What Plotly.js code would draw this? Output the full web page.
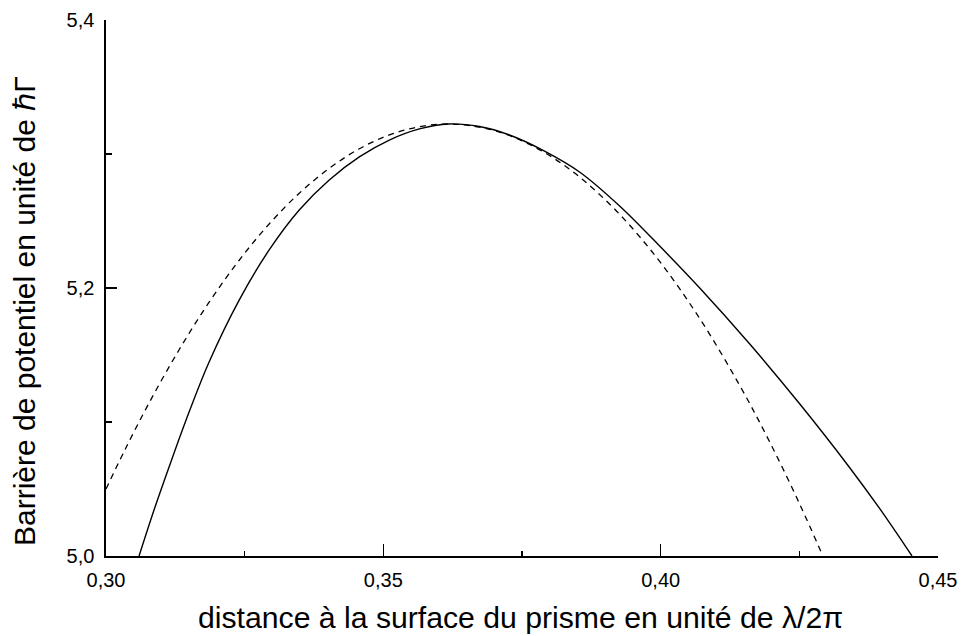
<!DOCTYPE html>
<html>
<head>
<meta charset="utf-8">
<script src="https://cdn.plot.ly/plotly-3.0.1.min.js"></script>
<style>html,body{margin:0;padding:0;background:#fff;}#chart{width:962px;height:636px;}</style>
</head>
<body>
<div id="chart"></div>
<script>
// Solid curve (exact barrier)
const solidX = [0.30596, 0.30866, 0.31137, 0.31444, 0.31859, 0.32401, 0.32942, 0.33484, 0.34025, 0.34567, 0.35108, 0.35650, 0.36173, 0.36733, 0.37274, 0.37906, 0.38538, 0.39260, 0.39982, 0.40704, 0.41606, 0.42509, 0.43412, 0.43953, 0.44531];
const solidY = [5.0000, 5.0343, 5.0664, 5.1015, 5.1448, 5.1910, 5.2284, 5.2582, 5.2806, 5.2978, 5.3104, 5.3187, 5.3224, 5.3205, 5.3142, 5.3022, 5.2866, 5.2612, 5.2313, 5.2000, 5.1582, 5.1134, 5.0657, 5.0351, 5.0000];
// Dashed curve (approximation)
const dashX = [0.30000, 0.30325, 0.30776, 0.31318, 0.31859, 0.32401, 0.32942, 0.33484, 0.34025, 0.34567, 0.35108, 0.35650, 0.36173, 0.36733, 0.37274, 0.37906, 0.38538, 0.39260, 0.39982, 0.40704, 0.41426, 0.41968, 0.42509, 0.42924];
const dashY = [5.0500, 5.0779, 5.1142, 5.1539, 5.1894, 5.2207, 5.2478, 5.2707, 5.2893, 5.3039, 5.3142, 5.3204, 5.3224, 5.3201, 5.3138, 5.3011, 5.2828, 5.2550, 5.2198, 5.1772, 5.1272, 5.0849, 5.0385, 5.0000];

const xTickVals = [0.30, 0.35, 0.40, 0.45];
const xTickText = ["0,30", "0,35", "0,40", "0,45"];
const xMinorVals = [0.325, 0.375, 0.425];
const yTickVals = [5.0, 5.2, 5.4];
const yTickText = ["5,0", "5,2", "5,4"];
const yMinorVals = [5.1, 5.3];

const xTitle = "distance à la surface du prisme en unité de λ/2π";
const yTitle = "Barrière de potentiel en unité de ℏΓ";

const FONT = "Liberation Sans, Arial, Helvetica, sans-serif";

const traces = [
  {x: solidX, y: solidY, type: 'scatter', mode: 'lines', line: {color: '#000', width: 1.4, shape: 'spline', smoothing: 1}, hoverinfo: 'skip'},
  {x: dashX, y: dashY, type: 'scatter', mode: 'lines', line: {color: '#000', width: 1.3, dash: '6px,5px', shape: 'spline', smoothing: 1}, hoverinfo: 'skip'}
];

const layout = {
  width: 962, height: 636,
  margin: {l: 106, r: 24, t: 20, b: 80},
  paper_bgcolor: '#fff', plot_bgcolor: '#fff',
  showlegend: false,
  separators: ', ',
  font: {family: FONT, color: '#000', size: 20},
  xaxis: {
    range: [0.30, 0.45], autorange: false,
    showline: true, linecolor: '#000', linewidth: 1.6,
    showgrid: false, zeroline: false,
    tickmode: 'array', tickvals: xTickVals, ticktext: xTickText,
    ticks: 'inside', ticklen: 12, tickwidth: 1.4, tickcolor: '#000',
    ticklabelstandoff: 5,
    tickfont: {family: FONT, size: 20, color: '#000'},
    minor: {tickvals: xMinorVals, ticks: 'inside', ticklen: 5, tickwidth: 1.4, tickcolor: '#000', showgrid: false}
  },
  yaxis: {
    range: [5.0, 5.4], autorange: false,
    showline: true, linecolor: '#000', linewidth: 1.6,
    showgrid: false, zeroline: false,
    tickmode: 'array', tickvals: yTickVals, ticktext: yTickText,
    ticks: 'inside', ticklen: 11, tickwidth: 1.4, tickcolor: '#000',
    ticklabelstandoff: 6,
    tickfont: {family: FONT, size: 20, color: '#000'},
    minor: {tickvals: yMinorVals, ticks: 'inside', ticklen: 6, tickwidth: 1.4, tickcolor: '#000', showgrid: false}
  },
  annotations: [
    {text: xTitle, xref: 'paper', yref: 'paper', x: 0.4985, y: -0.1155, xanchor: 'center', yanchor: 'middle',
     showarrow: false, font: {family: FONT, size: 30.2, color: '#000'}},
    {text: yTitle, xref: 'paper', yref: 'paper', x: -0.0986, y: 0.457, xanchor: 'center', yanchor: 'middle',
     textangle: -90, showarrow: false, font: {family: FONT, size: 30, color: '#000'}}
  ]
};

Plotly.newPlot('chart', traces, layout, {staticPlot: true, displayModeBar: false});
</script>
</body>
</html>
